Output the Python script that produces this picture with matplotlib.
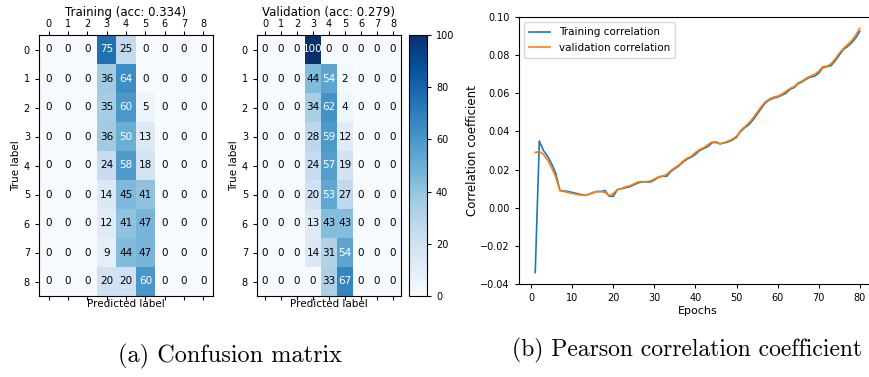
import numpy as np
from matplotlib import pyplot as plt

labels = [0, 1, 2, 3, 4, 5, 6, 7, 8]

train_cm = [
    [0, 0, 0, 75, 25, 0, 0, 0, 0],
    [0, 0, 0, 36, 64, 0, 0, 0, 0],
    [0, 0, 0, 35, 60, 5, 0, 0, 0],
    [0, 0, 0, 36, 50, 13, 0, 0, 0],
    [0, 0, 0, 24, 58, 18, 0, 0, 0],
    [0, 0, 0, 14, 45, 41, 0, 0, 0],
    [0, 0, 0, 12, 41, 47, 0, 0, 0],
    [0, 0, 0, 9, 44, 47, 0, 0, 0],
    [0, 0, 0, 20, 20, 60, 0, 0, 0],
]
val_cm = [
    [0, 0, 0, 100, 0, 0, 0, 0, 0],
    [0, 0, 0, 44, 54, 2, 0, 0, 0],
    [0, 0, 0, 34, 62, 4, 0, 0, 0],
    [0, 0, 0, 28, 59, 12, 0, 0, 0],
    [0, 0, 0, 24, 57, 19, 0, 0, 0],
    [0, 0, 0, 20, 53, 27, 0, 0, 0],
    [0, 0, 0, 13, 43, 43, 0, 0, 0],
    [0, 0, 0, 14, 31, 54, 0, 0, 0],
    [0, 0, 0, 0, 33, 67, 0, 0, 0],
]
train_acc = 0.334
val_acc = 0.279

epochs = list(range(1, 81))
train_corr = [
    -0.034, 0.035, 0.030, 0.027, 0.023, 0.018, 0.009, 0.0088, 0.0085, 0.008,
    0.0075, 0.007, 0.0065, 0.007, 0.0078, 0.0085, 0.0085, 0.009, 0.006, 0.006,
    0.0095, 0.010, 0.0105, 0.011, 0.012, 0.013, 0.0135, 0.0135, 0.0135, 0.0145,
    0.016, 0.0165, 0.0165, 0.019, 0.0205, 0.022, 0.024, 0.0255, 0.0265, 0.028,
    0.030, 0.031, 0.032, 0.034, 0.0345, 0.0335, 0.034, 0.0345, 0.0355, 0.037,
    0.040, 0.042, 0.0435, 0.046, 0.049, 0.052, 0.055, 0.0565, 0.0575, 0.058,
    0.059, 0.060, 0.062, 0.063, 0.065, 0.066, 0.0675, 0.0685, 0.069, 0.0705,
    0.0735, 0.074, 0.0745, 0.077, 0.080, 0.083, 0.0845, 0.0865, 0.089, 0.0925,
]
val_corr = [
    0.029, 0.0295, 0.028, 0.025, 0.021, 0.016, 0.009, 0.0085, 0.008, 0.0075,
    0.007, 0.0067, 0.0065, 0.007, 0.008, 0.0085, 0.0085, 0.008, 0.0063, 0.0075,
    0.0095, 0.010, 0.011, 0.0115, 0.0125, 0.0135, 0.0137, 0.0137, 0.014, 0.015,
    0.0163, 0.0165, 0.0175, 0.0195, 0.021, 0.0225, 0.0245, 0.026, 0.027, 0.029,
    0.0305, 0.0315, 0.033, 0.0345, 0.034, 0.0335, 0.0342, 0.035, 0.036, 0.0375,
    0.0405, 0.0425, 0.0445, 0.047, 0.050, 0.053, 0.0555, 0.057, 0.058, 0.0585,
    0.0595, 0.061, 0.0625, 0.0635, 0.0655, 0.0665, 0.068, 0.069, 0.070, 0.0715,
    0.074, 0.0742, 0.0755, 0.078, 0.081, 0.0835, 0.0855, 0.0875, 0.0905, 0.094,
]

W, H = 870, 377


def px_axes(fig, left, top, right, bottom):
    '''Axes from pixel box (top-left origin)'''
    return fig.add_axes([left / W, 1 - bottom / H, (right - left) / W, (bottom - top) / H])


def plot_cm(ax, cm, title):
    cm = np.array(cm)
    im = ax.matshow(cm, cmap='Blues', vmin=0, vmax=100, aspect='auto')
    for i in range(cm.shape[0]):
        for j in range(cm.shape[1]):
            color = 'white' if cm[i, j] > 48 else 'black'
            ax.text(j, i, str(cm[i, j]), ha='center', va='center',
                    color=color, fontsize=7.5)
    ax.set_xticks(range(len(labels)))
    ax.set_yticks(range(len(labels)))
    ax.set_xticklabels(labels)
    ax.set_yticklabels(labels)
    ax.tick_params(labelsize=7, length=3)
    ax.tick_params(axis='x', pad=1.5)
    ax.set_title(title, fontsize=8.5, pad=0)
    ax.set_xlabel('Predicted label', fontsize=7.5, labelpad=-1)
    ax.set_ylabel('True label', fontsize=7.5, labelpad=2)
    return im


def main():
    fig = plt.figure(figsize=(W / 100, H / 100), dpi=100)

    ax1 = px_axes(fig, 39, 35, 213, 296)
    plot_cm(ax1, train_cm, f'Training (acc: {train_acc})')
    ax2 = px_axes(fig, 257, 35, 401, 296)
    im = plot_cm(ax2, val_cm, f'Validation (acc: {val_acc})')
    cax = px_axes(fig, 409, 35, 427, 296)
    cb = fig.colorbar(im, cax=cax, ticks=[0, 20, 40, 60, 80, 100])
    cb.ax.tick_params(labelsize=7, length=3)
    cb.outline.set_linewidth(0.8)

    ax3 = px_axes(fig, 519, 17, 876, 284)
    ax3.plot(epochs, train_corr, label='Training correlation', lw=1.2)
    ax3.plot(epochs, val_corr, label='validation correlation', lw=1.2)
    ax3.set_xlim(-2.95, 83.95)
    ax3.set_ylim(-0.04, 0.10)
    ax3.set_xticks(range(0, 81, 10))
    ax3.tick_params(labelsize=7, length=3)
    ax3.set_xlabel('Epochs', fontsize=8, labelpad=2)
    ax3.set_ylabel('Correlation coefficient', fontsize=8.5, labelpad=1)
    ax3.legend(loc='upper left', fontsize=7.5, borderpad=0.5)

    fig.text(230 / W, 1 - 356 / H, '(a) Confusion matrix', fontsize=17.5,
             family='cmr10', ha='center', va='center')
    fig.text(687 / W, 1 - 350 / H, '(b) Pearson correlation coefficient', fontsize=17,
             family='cmr10', ha='center', va='center')

    fig.savefig('out.png', dpi=100)


if __name__ == "__main__":
    main()
